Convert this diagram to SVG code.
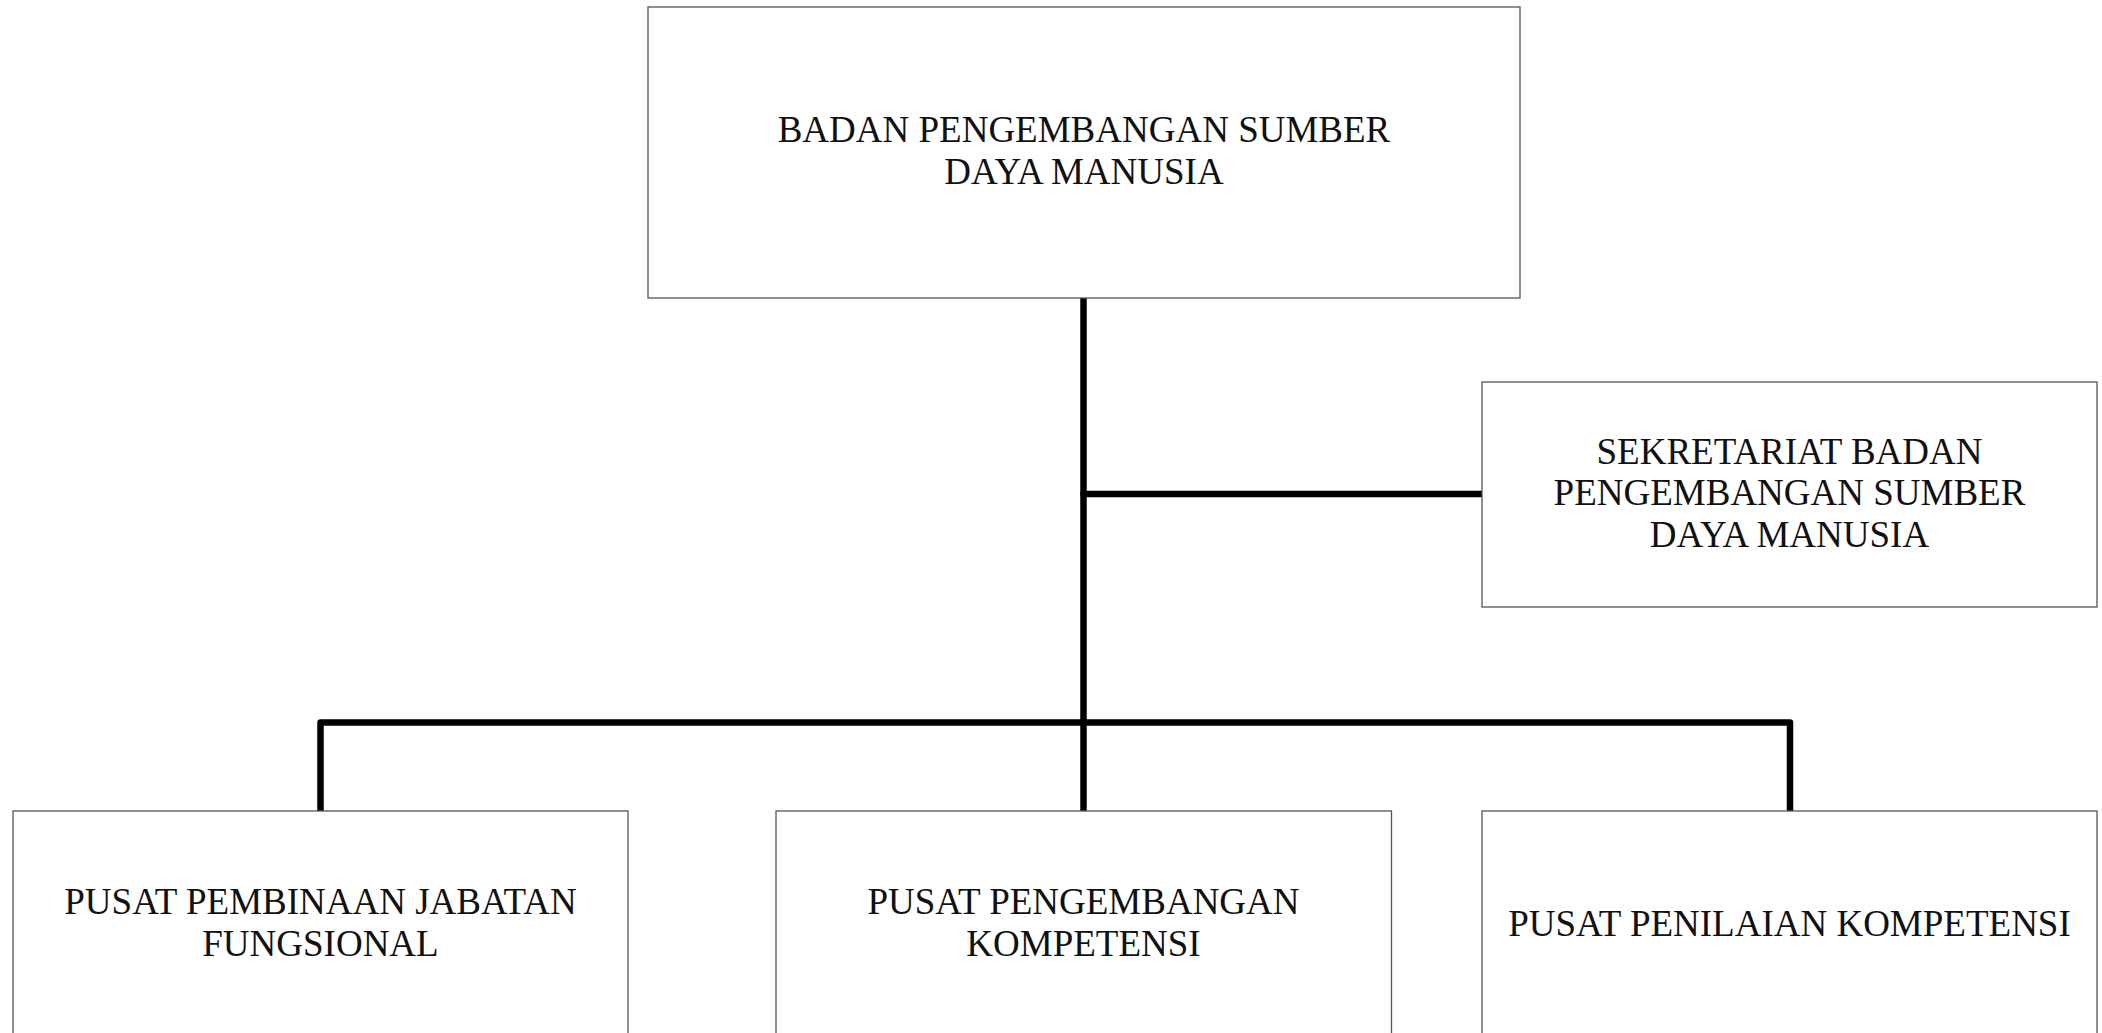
<svg xmlns="http://www.w3.org/2000/svg" width="2102" height="1033" viewBox="0 0 2102 1033">
  <style>
    .box { fill: #ffffff; stroke: #555555; stroke-width: 1.3; }
    .label { font-family: "Liberation Serif", "Times New Roman", serif; font-size: 37px; fill: #111111; text-anchor: middle; }
    .link { fill: none; stroke: #000000; stroke-width: 6.5; stroke-linecap: round; stroke-linejoin: round; }
  </style>
  <rect width="2102" height="1033" fill="#ffffff"/>

  <!-- org chart connectors -->
  <g id="connectors">
    <path class="link" d="M1083.5 297 V722.5"/>
    <path class="link" d="M1083.5 494 H1482"/>
    <path class="link" d="M320.5 811 V722.5 H1790 V811"/>
    <path class="link" d="M1083.5 722.5 V811"/>
  </g>

  <g id="badan">
    <rect class="box" x="648" y="7" width="872" height="291"/>
    <text class="label" x="1084" y="142">BADAN PENGEMBANGAN SUMBER</text>
    <text class="label" x="1084" y="184">DAYA MANUSIA</text>
  </g>

  <g id="sekretariat">
    <rect class="box" x="1482" y="382" width="615" height="225"/>
    <text class="label" x="1789.5" y="464">SEKRETARIAT BADAN</text>
    <text class="label" x="1789.5" y="505">PENGEMBANGAN SUMBER</text>
    <text class="label" x="1789.5" y="547">DAYA MANUSIA</text>
  </g>

  <g id="pusat-jabatan">
    <rect class="box" x="13" y="811" width="615" height="240"/>
    <text class="label" x="320.5" y="914">PUSAT PEMBINAAN JABATAN</text>
    <text class="label" x="320.5" y="956">FUNGSIONAL</text>
  </g>

  <g id="pusat-pengembangan">
    <rect class="box" x="776" y="811" width="615.5" height="240"/>
    <text class="label" x="1083.5" y="914">PUSAT PENGEMBANGAN</text>
    <text class="label" x="1083.5" y="956">KOMPETENSI</text>
  </g>

  <g id="pusat-penilaian">
    <rect class="box" x="1482" y="811" width="615" height="240"/>
    <text class="label" x="1789.5" y="936">PUSAT PENILAIAN KOMPETENSI</text>
  </g>
</svg>
